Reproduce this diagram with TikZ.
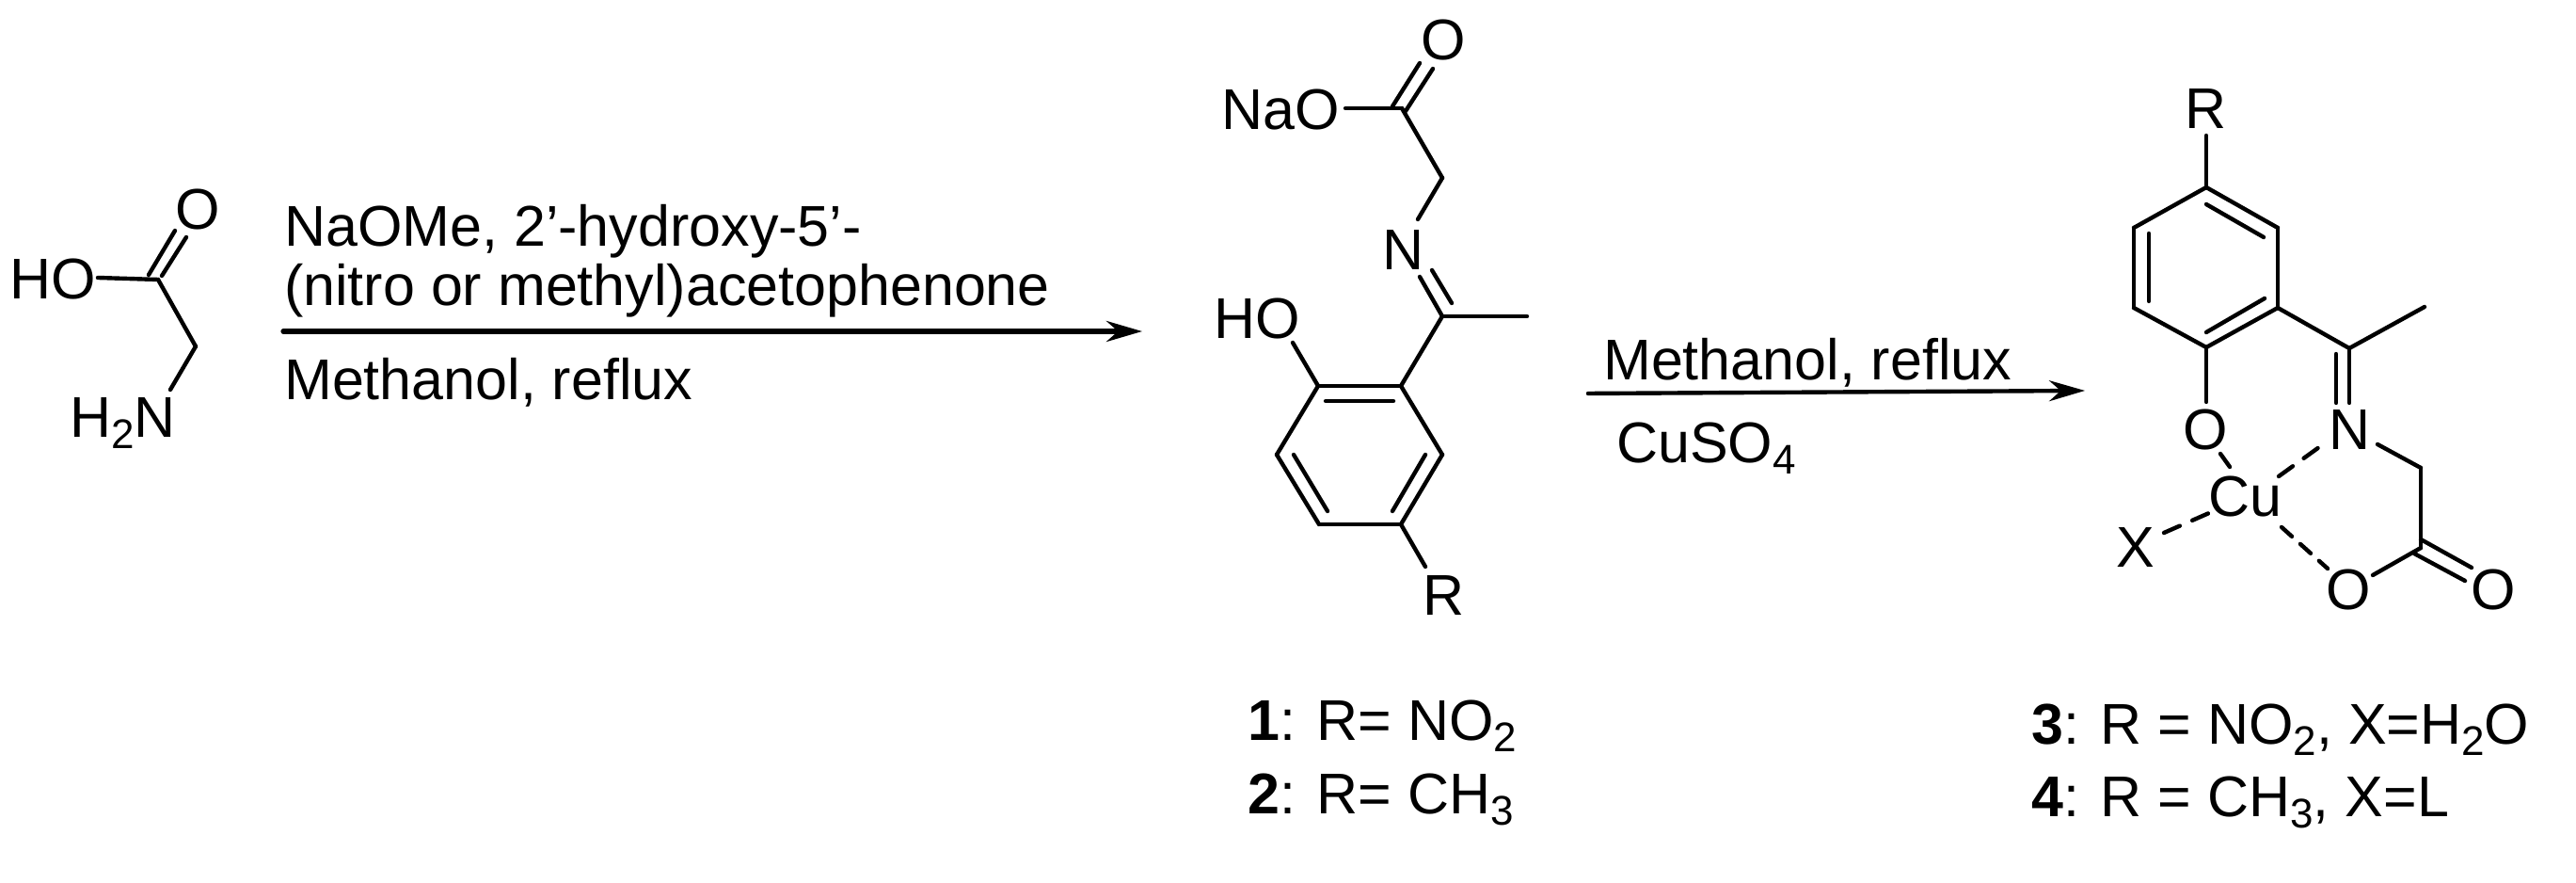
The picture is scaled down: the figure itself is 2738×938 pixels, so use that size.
\documentclass[tikz,border=0pt]{standalone}
\usepackage{fontspec}
\setmainfont{Liberation Sans}
\usetikzlibrary{arrows.meta}
\newcommand{\chsub}[1]{\raisebox{-3pt}{\fontsize{11}{12}\selectfont #1}}
\begin{document}
\begin{tikzpicture}[x=0.25pt, y=-0.25pt, line join=round, line cap=round, line width=1.1pt, font=\fontsize{15.25}{17}\selectfont]
	\tikzset{atom/.style={inner sep=0pt, anchor=base west},
		dashbond/.style={dash pattern=on 4.6pt off 3.6pt},
		rxnarrow/.style={-{Stealth[length=9.5pt,width=5.5pt]}}}
	\useasboundingbox (0,0) rectangle (2738,938);
	%Glycine
	\node[atom] (hoG) at (8,318) {HO};
	\node[atom] (oG) at (184,244) {O};
	\node[atom] (nG) at (72,465) {H\chsub{2}N};
	\foreach \n/\x/\y in {g1/168/297, g2/208/368, g3/181/414, g4/104/295, g5/158/292, g6/186/245, g7/172/293, g8/198/252}
		{\coordinate (\n) at (\x,\y);}
	\foreach \a/\b in {g4/g1, g1/g2, g2/g3, g5/g6, g7/g8}
		\draw (\a)--(\b);
	%Arrow 1
	\coordinate (arrA1) at (301,352);
	\coordinate (arrA2) at (1214,352);
	\draw[rxnarrow, line width=1.3pt] (arrA1)--(arrA2);
	\node[atom] (reagA) at (300,262) {NaOMe, 2’-hydroxy-5’-};
	\node[atom] (reagB) at (300,325) {(nitro or methyl)acetophenone};
	\node[atom] (reagC) at (300,425) {Methanol, reflux};
	%Ligand
	\node[atom] (oL) at (1508,64) {O};
	\node[atom] (naoL) at (1296,138) {NaO};
	\node[atom] (nL) at (1467,287) {N};
	\node[atom] (hoL) at (1288,360) {HO};
	\node[atom] (rL) at (1510,654) {R};
	\foreach \n/\x/\y in {l1/1430/115, l2/1490/115, l3/1480/113, l4/1509/67, l5/1494/118, l6/1523/73, l7/1533/189, l8/1507/233, l9/1509/294, l10/1533/336, l11/1522/287, l12/1543/322, l13/1623/336, l14/1374/364, l15/1515/602, r1/1401/410, r2/1489/410, r3/1533/483, r4/1489/557, r5/1402/557, r6/1357/483, i1/1409/426, i2/1481/426, i3/1375/483, i4/1411/543, i5/1515/483, i6/1480/543}
		{\coordinate (\n) at (\x,\y);}
	\foreach \a/\b in {l1/l2, l3/l4, l5/l6, l2/l7, l7/l8, l9/l10, l11/l12, l10/l13, l10/r2, l14/r1, r1/r2, r2/r3, r3/r4, r4/r5, r5/r6, r6/r1, i1/i2, i3/i4, i5/i6, r4/l15}
		\draw (\a)--(\b);
	\node[atom] (lblA) at (1324,787) {\textbf{1}: R= NO\chsub{2}};
	\node[atom] (lblB) at (1324,865) {\textbf{2}: R= CH\chsub{3}};
	%Arrow 2
	\coordinate (arrB1) at (1688,418);
	\coordinate (arrB2) at (2216,415);
	\draw[rxnarrow] (arrB1)--(arrB2);
	\node[atom] (reagD) at (1702,404) {Methanol, reflux};
	\node[atom] (reagE) at (1716,492) {CuSO\chsub{4}};
	%Complex
	\node[atom] (rC) at (2320,137) {R};
	\node[atom] (oC) at (2318,478) {O};
	\node[atom] (nC) at (2473,478) {N};
	\node[atom] (cuC) at (2345,549) {Cu};
	\node[atom] (xC) at (2247,603) {X};
	\node[atom] (obC) at (2470,648) {O};
	\node[atom] (odC) at (2624,648) {O};
	\foreach \n/\x/\y in {c1/2345/144, s1/2345/199, s2/2421/242, s3/2421/327, s4/2345/369, s5/2268/327, s6/2268/242, j1/2345/217, j2/2406/252, j3/2284/248, j4/2284/320, j5/2407/317, j6/2345/353, c2/2497/370, c3/2577/326, c4/2483/376, c5/2483/428, c6/2497/428, c7/2345/427, c8/2527/472, c9/2573/497, c10/2573/582, c11/2522/611, c12/2566/588, c13/2620/617, c14/2573/573, c15/2627/603, d1/2360/482, d2/2370/496, d3/2422/506, d4/2465/475, d5/2300/566, d6/2348/545, d7/2425/560, d8/2474/604}
		{\coordinate (\n) at (\x,\y);}
	\foreach \a/\b in {c1/s1, s1/s2, s2/s3, s3/s4, s4/s5, s5/s6, s6/s1, j1/j2, j3/j4, j5/j6, s3/c2, c2/c3, c4/c5, c2/c6, s4/c7, c8/c9, c9/c10, c10/c11, c12/c13, c14/c15}
		\draw (\a)--(\b);
	\foreach \a/\b in {d1/d2, d3/d4, d5/d6}
		\draw[dashbond] (\a)--(\b);
	\draw[dash pattern=on 3.7pt off 3pt] (d7)--(d8);
	\node[atom] (lblC) at (2157,791) {\textbf{3}: R = NO\chsub{2}, X=H\chsub{2}O};
	\node[atom] (lblD) at (2157,868) {\textbf{4}: R = CH\chsub{3}, X=L};
\end{tikzpicture}
\end{document}
